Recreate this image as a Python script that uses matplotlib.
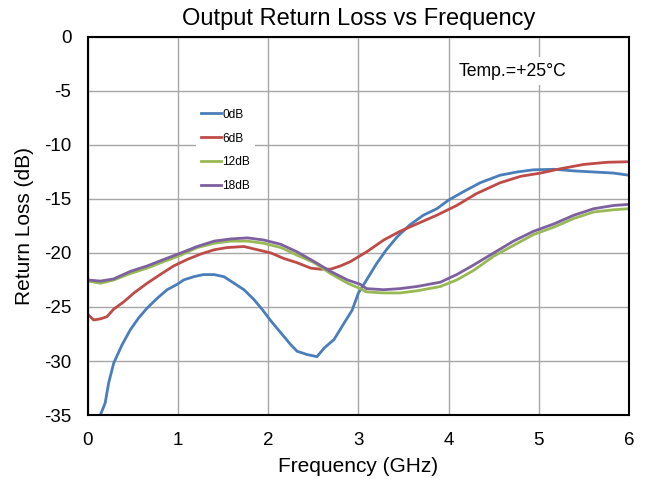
import numpy as np
import matplotlib.pyplot as plt

plt.rcParams['font.family'] = ['Liberation Sans', 'DejaVu Sans']
plt.rcParams['axes.unicode_minus'] = False

# Datos (GHz, dB)
f_0db = [0.10, 0.137, 0.19, 0.23, 0.285, 0.378, 0.47, 0.563, 0.656, 0.767, 0.878, 0.99,
         1.06, 1.17, 1.28, 1.40, 1.51, 1.62, 1.73, 1.84, 1.93, 2.03, 2.14, 2.25, 2.32,
         2.43, 2.54, 2.62, 2.73, 2.84, 2.93, 3.0, 3.09, 3.2, 3.31, 3.43, 3.57, 3.72,
         3.87, 4.0, 4.17, 4.35, 4.57, 4.76, 4.94, 5.17, 5.39, 5.61, 5.83, 6.0]
rl_0db = [-36.5, -35.0, -33.9, -32.0, -30.2, -28.5, -27.1, -26.0, -25.1, -24.2, -23.4, -22.9,
          -22.5, -22.2, -22.0, -22.0, -22.2, -22.8, -23.4, -24.3, -25.2, -26.3, -27.4, -28.5, -29.1,
          -29.4, -29.6, -28.8, -28.0, -26.5, -25.3, -23.7, -22.5, -21.0, -19.7, -18.5, -17.4, -16.5,
          -15.9, -15.1, -14.3, -13.5, -12.8, -12.5, -12.3, -12.25, -12.4, -12.5, -12.6, -12.8]

f_6db = [0.0, 0.063, 0.137, 0.21, 0.285, 0.40, 0.51, 0.656, 0.80, 0.95, 1.1, 1.25, 1.40,
         1.54, 1.73, 1.88, 2.03, 2.17, 2.32, 2.47, 2.58, 2.69, 2.80, 2.91, 3.09, 3.28,
         3.46, 3.65, 3.87, 4.09, 4.31, 4.57, 4.8, 5.02, 5.24, 5.5, 5.76, 6.0]
rl_6db = [-25.7, -26.2, -26.1, -25.9, -25.2, -24.5, -23.7, -22.8, -22.0, -21.2, -20.6, -20.1, -19.7,
          -19.5, -19.4, -19.7, -20.0, -20.5, -20.9, -21.4, -21.5, -21.5, -21.2, -20.8, -19.9, -18.8,
          -18.0, -17.3, -16.5, -15.6, -14.5, -13.5, -12.9, -12.6, -12.2, -11.8, -11.6, -11.55]

f_12db = [0.0, 0.137, 0.285, 0.47, 0.656, 0.84, 1.03, 1.21, 1.40, 1.58, 1.77, 1.95, 2.14,
          2.32, 2.51, 2.69, 2.88, 3.02, 3.09, 3.28, 3.46, 3.65, 3.91, 4.09, 4.28, 4.5,
          4.72, 4.94, 5.17, 5.39, 5.61, 5.83, 6.0]
rl_12db = [-22.6, -22.8, -22.5, -21.9, -21.4, -20.8, -20.2, -19.5, -19.1, -18.9, -18.9, -19.1, -19.5,
           -20.2, -20.9, -21.9, -22.8, -23.3, -23.6, -23.7, -23.7, -23.5, -23.1, -22.5, -21.6, -20.3,
           -19.3, -18.3, -17.6, -16.8, -16.2, -16.0, -15.9]

f_18db = [0.0, 0.137, 0.285, 0.47, 0.656, 0.84, 1.03, 1.21, 1.40, 1.58, 1.77, 1.95, 2.14,
          2.32, 2.51, 2.69, 2.88, 3.02, 3.09, 3.28, 3.46, 3.65, 3.91, 4.09, 4.28, 4.5,
          4.72, 4.94, 5.17, 5.39, 5.61, 5.83, 6.0]
rl_18db = [-22.5, -22.6, -22.4, -21.7, -21.2, -20.6, -20.0, -19.4, -18.9, -18.7, -18.6, -18.8, -19.2,
           -19.9, -20.8, -21.7, -22.5, -22.9, -23.3, -23.4, -23.3, -23.1, -22.7, -22.0, -21.1, -20.0,
           -18.9, -18.0, -17.3, -16.5, -15.9, -15.6, -15.5]

series = [(f_0db, rl_0db, '0dB', '#4A7EBB'),
          (f_6db, rl_6db, '6dB', '#BE4B48'),
          (f_12db, rl_12db, '12dB', '#98B954'),
          (f_18db, rl_18db, '18dB', '#7D60A0')]

fig = plt.figure(figsize=(6.47, 4.79), dpi=100)
ax = fig.add_axes([0.136, 0.1336, 0.836, 0.7892])

for x, y, lab, c in series:
    ax.plot(x, y, color=c, lw=2.0, label=lab)

ax.set_xlim(0, 6)
ax.set_ylim(-35, 0)
ax.set_xticks(np.arange(0, 7, 1))
ax.set_yticks(np.arange(-35, 1, 5))
ax.grid(True, color='#A6A6A6', lw=1.0)
ax.set_axisbelow(True)
ax.tick_params(length=0, labelsize=13.5, pad=12)
for s in ax.spines.values():
    s.set_color('black')
    s.set_linewidth(1.5)

ax.set_title('Output Return Loss vs Frequency', fontsize=17, pad=8.5)
ax.set_xlabel('Frequency (GHz)', fontsize=15, labelpad=6)
ax.set_ylabel('Return Loss (dB)', fontsize=15, labelpad=7)

ax.text(0.784, 0.91, 'Temp.=+25\u00b0C', transform=ax.transAxes, ha='center', va='center',
        fontsize=12.7, bbox=dict(facecolor='white', edgecolor='none', pad=4))

leg = ax.legend(loc='upper left', bbox_to_anchor=(0.189, 0.839), fontsize=8.6, frameon=True,
                handlelength=1.7, handletextpad=0.1, labelspacing=1.0, borderpad=0.4)
leg.get_frame().set_edgecolor('none')
leg.get_frame().set_facecolor('white')
leg.get_frame().set_alpha(1)

fig.savefig('out.png', dpi=100)
